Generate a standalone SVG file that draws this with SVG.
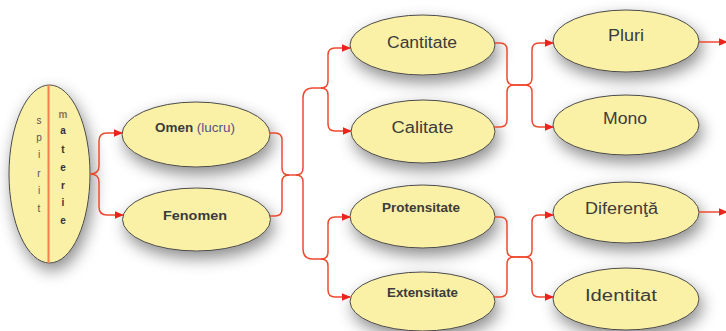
<svg xmlns="http://www.w3.org/2000/svg" width="726" height="331" viewBox="0 0 726 331">
  <defs>
    <filter id="shadow" x="-35%" y="-35%" width="170%" height="180%">
      <feGaussianBlur in="SourceAlpha" stdDeviation="8"/>
      <feOffset dx="3" dy="7" result="blur"/>
      <feFlood flood-color="#000" flood-opacity="0.45"/>
      <feComposite in2="blur" operator="in" result="shade"/>
      <feMerge>
        <feMergeNode in="shade"/>
        <feMergeNode in="SourceGraphic"/>
      </feMerge>
    </filter>
    <marker id="arrow" viewBox="0 0 10 10" refX="9" refY="5" markerWidth="9" markerHeight="9" markerUnits="userSpaceOnUse" orient="auto">
      <path d="M0,0.8 L10,5 L0,9.2 Z" fill="#e8241c"/>
    </marker>
  </defs>
  <style>
    .node ellipse { fill: #faf0a6; stroke: #4a4a4a; stroke-width: 1; filter: url(#shadow); }
    .lbl { font-family: "Liberation Sans", Arial, sans-serif; fill: #3c3c3c; text-anchor: middle; }
    .big { font-size: 16px; }
    .small { font-size: 12px; font-weight: bold; }
    .letter { font-family: "Liberation Sans", Arial, sans-serif; font-size: 10px; text-anchor: middle; }
    .conn path { fill: none; stroke: #ee4a30; stroke-width: 1.5; }
    .conn path.arr { marker-end: url(#arrow); }
  </style>

  <rect width="726" height="331" fill="#ffffff"/>

  <!-- root: spirit / materie -->
  <g id="spirit-materie" class="node">
    <ellipse cx="49.5" cy="174" rx="40.5" ry="89"/>
    <line x1="48.5" y1="85" x2="48.5" y2="263" stroke="#f5804a" stroke-width="2"/>
    <g class="letter" fill="#555">
      <text x="39" y="124">s</text>
      <text x="39" y="141">p</text>
      <text x="39" y="158">i</text>
      <text x="39" y="177">r</text>
      <text x="39" y="194">i</text>
      <text x="39" y="212">t</text>
    </g>
    <g class="letter" font-weight="bold" fill="#333">
      <text x="63" y="118" fill="#8a7a4a">m</text>
      <text x="63" y="134">a</text>
      <text x="63" y="153">t</text>
      <text x="63" y="171">e</text>
      <text x="63" y="189">r</text>
      <text x="63" y="206">i</text>
      <text x="63" y="224">e</text>
    </g>
  </g>

  <g id="omen" class="node">
    <ellipse cx="196" cy="134.5" rx="74" ry="32.5"/>
    <text class="lbl small" x="195" y="131.5" textLength="80" lengthAdjust="spacingAndGlyphs">Omen <tspan fill="#5a4f8e" font-weight="normal">(lucru)</tspan></text>
  </g>
  <g id="fenomen" class="node">
    <ellipse cx="196.5" cy="219.5" rx="74" ry="31.5"/>
    <text class="lbl small" x="195" y="219.5" font-size="13" textLength="64" lengthAdjust="spacingAndGlyphs">Fenomen</text>
  </g>

  <g id="cantitate" class="node">
    <ellipse cx="422.5" cy="45" rx="72.5" ry="30"/>
    <text class="lbl big" x="422" y="48" textLength="70" lengthAdjust="spacingAndGlyphs">Cantitate</text>
  </g>
  <g id="calitate" class="node">
    <ellipse cx="423" cy="131.5" rx="72" ry="31.5"/>
    <text class="lbl big" x="422.5" y="133" textLength="62" lengthAdjust="spacingAndGlyphs">Calitate</text>
  </g>
  <g id="protensitate" class="node">
    <ellipse cx="422.5" cy="216.5" rx="72.5" ry="31.5"/>
    <text class="lbl small" x="421" y="212" textLength="78" lengthAdjust="spacingAndGlyphs">Protensitate</text>
  </g>
  <g id="extensitate" class="node">
    <ellipse cx="422.5" cy="301.5" rx="72.5" ry="29.5"/>
    <text class="lbl small" x="422.5" y="297" font-size="11" textLength="71" lengthAdjust="spacingAndGlyphs">Extensitate</text>
  </g>

  <g id="pluri" class="node">
    <ellipse cx="626" cy="41" rx="73" ry="31"/>
    <text class="lbl big" x="626" y="41" textLength="36" lengthAdjust="spacingAndGlyphs">Pluri</text>
  </g>
  <g id="mono" class="node">
    <ellipse cx="626" cy="125" rx="73" ry="30"/>
    <text class="lbl big" x="625" y="124" textLength="44" lengthAdjust="spacingAndGlyphs">Mono</text>
  </g>
  <g id="diferenta" class="node">
    <ellipse cx="626" cy="212.5" rx="73" ry="30.5"/>
    <text class="lbl big" x="621.5" y="214" textLength="73" lengthAdjust="spacingAndGlyphs">Diferenţă</text>
  </g>
  <g id="identitat" class="node">
    <ellipse cx="626" cy="299" rx="73" ry="31"/>
    <text class="lbl big" x="621" y="301" textLength="72" lengthAdjust="spacingAndGlyphs">Identitat</text>
  </g>

  <!-- brace-style connectors -->
  <g id="connectors" class="conn">
    <!-- root to Omen / Fenomen -->
    <path class="arr" d="M90,174 Q99,174 99,166 V141 Q99,133 107,133 H122"/>
    <path class="arr" d="M90,174 Q99,174 99,182 V207 Q99,215 107,215 H123"/>

    <!-- Omen / Fenomen joined, then split to both pairs -->
    <path d="M269,133 H275 Q282,133 282,140 V168 Q282,175 289,175"/>
    <path d="M270,216 H275 Q282,216 282,209 V182 Q282,175 289,175"/>
    <path d="M288,175 H296 Q303,175 303,168 V98 Q303,88 313,88 H322"/>
    <path d="M296,175 Q303,175 303,182 V249 Q303,259 313,259 H322"/>

    <!-- to Cantitate / Calitate -->
    <path class="arr" d="M321,88 Q328,88 328,81 V55 Q328,48 335,48 H350"/>
    <path class="arr" d="M321,88 Q328,88 328,95 V124 Q328,131 335,131 H351"/>

    <!-- to Protensitate / Extensitate -->
    <path class="arr" d="M321,259 Q328,259 328,252 V224 Q328,217 335,217 H350"/>
    <path class="arr" d="M321,259 Q328,259 328,266 V290 Q328,297 335,297 H350"/>

    <!-- Cantitate / Calitate to Pluri / Mono -->
    <path d="M495,43 H500 Q507,43 507,50 V78 Q507,85 514,85 H520"/>
    <path d="M494,127 H500 Q507,127 507,120 V92 Q507,85 514,85 H520"/>
    <path class="arr" d="M519,85 H525 Q532,85 532,78 V50 Q532,43 539,43 H553"/>
    <path class="arr" d="M519,85 H525 Q532,85 532,92 V120 Q532,127 539,127 H553"/>

    <!-- Protensitate / Extensitate to Diferenţă / Identitat -->
    <path d="M495,217 H500 Q507,217 507,224 V250 Q507,257 514,257 H520"/>
    <path d="M494,297 H500 Q507,297 507,290 V264 Q507,257 514,257 H520"/>
    <path class="arr" d="M519,257 H525 Q532,257 532,250 V222 Q532,215 539,215 H553"/>
    <path class="arr" d="M519,257 H525 Q532,257 532,264 V290 Q532,297 539,297 H553"/>

    <!-- onward from Pluri and Diferenţă -->
    <path class="arr" d="M699,42 H727"/>
    <path class="arr" d="M699,212 H727"/>
  </g>
</svg>
